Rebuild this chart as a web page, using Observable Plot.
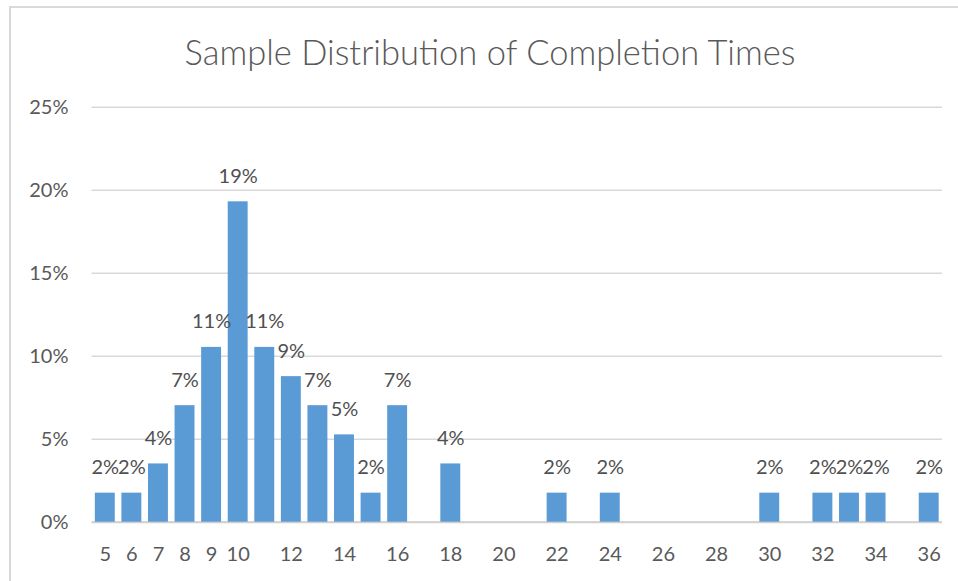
<!DOCTYPE html>
<html>
<head>
<meta charset="utf-8">
<script src="https://cdn.jsdelivr.net/npm/d3@7"></script>
<script src="https://cdn.jsdelivr.net/npm/@observablehq/plot@0.6"></script>
<style>
  html, body { margin: 0; padding: 0; background: #fff; }
  #wrap { position: relative; width: 958px; height: 581px; overflow: hidden; font-family: Lato, "Open Sans", sans-serif; }
  #frame { position: absolute; left: 9px; top: 6px; width: 960px; height: 590px; border-top: 2px solid #d9d9d9; border-left: 2px solid #d9d9d9; pointer-events: none; }
  #title { position: absolute; left: 0; top: 0; width: 980px; height: 90px; line-height: 104px; text-align: center; font-size: 34.5px; font-weight: 300; color: #595959; }
  #chart { position: absolute; left: 0; top: 90px; }
</style>
</head>
<body>
<div id="wrap">
  <div id="title">Sample Distribution of Completion Times</div>
  <div id="chart"></div>
  <div id="frame"></div>
</div>
<script>
// Categories (completion time) and share of sample
const times = [5,6,7,8,9,10,11,12,13,14,15,16,17,18,19,20,21,22,23,24,25,26,27,28,29,30,31,32,33,34,35,36];
const shares = [0.0175,0.0175,0.0351,0.0702,0.1053,0.1930,0.1053,0.0877,0.0702,0.0526,0.0175,0.0702,0,0.0351,0,0,0,0.0175,0,0.0175,0,0,0,0,0,0.0175,0,0.0175,0.0175,0.0175,0,0.0175];
const xTickLabels = [5,6,7,8,9,10,12,14,16,18,20,22,24,26,28,30,32,34,36];
const yTicks = [0,0.05,0.10,0.15,0.20,0.25];

const data = times.map((t, i) => ({time: t, share: shares[i]}));
const labelled = data.filter(d => d.share > 0);
const pct = d3.format(".0%");

const chart = Plot.plot({
  width: 958,
  height: 491,
  marginLeft: 91.5,
  marginRight: 16,
  marginTop: 16.7,
  marginBottom: 59.3,
  style: {fontFamily: "Lato, 'Open Sans', sans-serif", fontSize: "20px", color: "#595959", background: "transparent"},
  x: {type: "band", domain: times, paddingInner: 0.25, paddingOuter: 0.125, align: 0.5, round: false},
  y: {domain: [0, 0.25]},
  marks: [
    Plot.gridY(yTicks, {stroke: "#d9d9d9", strokeOpacity: 1, strokeWidth: 1.5}),
    Plot.ruleY([0], {stroke: "#d0d0d0", strokeWidth: 2}),
    Plot.barY(data, {x: "time", y: "share", fill: "#5b9bd5"}),
    Plot.text(labelled, {x: "time", y: "share", text: d => pct(d.share), lineAnchor: "bottom", dy: -19, fill: "#505050", fontSize: 20}),
    Plot.axisX({ticks: xTickLabels, tickSize: 0, tickPadding: 25, fill: "#595959", fontSize: 20, label: null}),
    Plot.axisY({ticks: yTicks, tickSize: 0, tickPadding: 23.5, tickFormat: d3.format(".0%"), fill: "#595959", fontSize: 20, label: null})
  ]
});
document.getElementById("chart").appendChild(chart);
</script>
</body>
</html>
